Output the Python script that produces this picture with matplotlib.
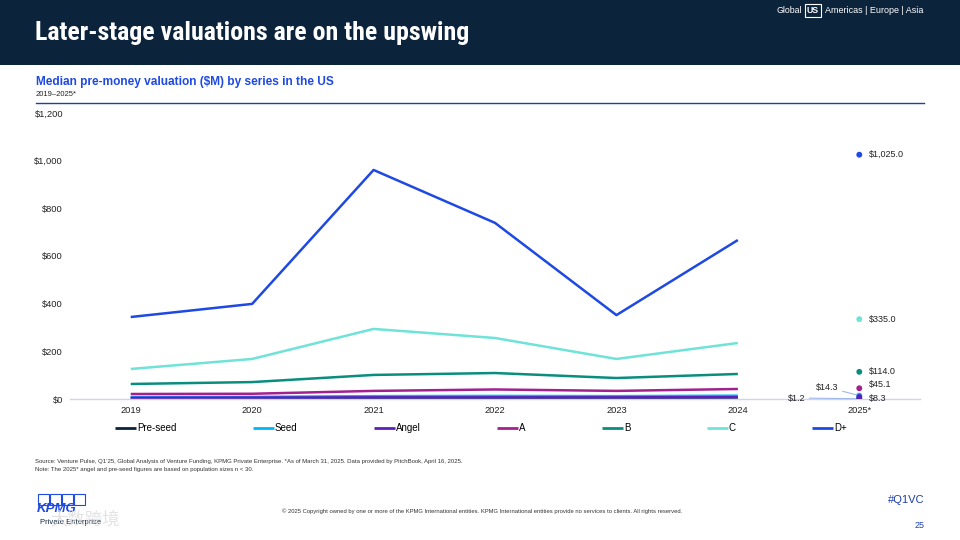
import numpy as np
import matplotlib
matplotlib.use("Agg")
from matplotlib import pyplot as plt, font_manager
from matplotlib.patches import Rectangle

plt.rcParams['font.family'] = ['Liberation Sans', 'DejaVu Sans']

#%% # Data

years = ['2019', '2020', '2021', '2022', '2023', '2024', '2025*']
series = ['Pre-seed', 'Seed', 'Angel', 'A', 'B', 'C', 'D+']
colours = ['#0c233c', '#00b8f5', '#5b1fbf', '#a3218f', '#098e7e', '#6fe3d8', '#1e49e2']

preseed = [3, 4, 5, 5, 5, 6]
seed = [8, 9, 12, 13, 12, 14]
angel = [5, 6, 7, 7, 7, 8]
ser_a = [21, 22, 34, 40, 34, 42]
ser_b = [63, 71, 101, 109, 88, 105]
ser_c = [126, 168, 294, 256, 168, 235]
ser_d = [344, 399, 961, 739, 352, 667]
values = [preseed, seed, angel, ser_a, ser_b, ser_c, ser_d]

# 2025 YTD values only shown as dots
ytd = [1.2, 14.3, 8.3, 45.1, 114.0, 335.0, 1025.0]

yticks = [0, 200, 400, 600, 800, 1000, 1200]

#%% # Pick the narrowest installed font for the header

installed = {f.name for f in font_manager.fontManager.ttflist}
narrow = ['Liberation Sans Narrow', 'DejaVu Sans Condensed', 'Roboto Condensed',
          'Open Sans Condensed', 'Noto Sans Condensed', 'Inter', 'Roboto', 'Liberation Sans']
head_font = next((f for f in narrow if f in installed), 'DejaVu Sans')

#%% # Figure

fig = plt.figure(figsize=(9.6, 5.4), dpi=100)
fig.patch.set_facecolor('white')

# header band
fig.patches.append(Rectangle((0, 1 - 65 / 540), 1, 65 / 540, transform=fig.transFigure,
                             facecolor='#0c233c', edgecolor='none', zorder=0))
title = fig.text(35 / 960, 1 - 33 / 540, 'Later-stage valuations are on the upswing',
                 family=[head_font, 'DejaVu Sans'], weight='bold', size=24,
                 color='white', va='center', ha='left')
# fit title width to the reference (~437 px)
r = fig.canvas.get_renderer()
w = title.get_window_extent(renderer=r).width
title.set_fontsize(min(24 * 437 / w, 26))

# top right nav
fig.text(802 / 960, 1 - 10.5 / 540, 'Global', color='white', size=6.3, va='center', ha='right')
fig.text(813 / 960, 1 - 10.5 / 540, 'US', color='white', size=6.3, weight='bold', va='center', ha='center',
         bbox=dict(boxstyle='square,pad=0.2', facecolor='none', edgecolor='white', linewidth=0.8))
fig.text(825 / 960, 1 - 10.5 / 540, 'Americas | Europe | Asia', color='white', size=6.5,
         va='center', ha='left')

# chart title
fig.text(36 / 960, 1 - 82 / 540, 'Median pre-money valuation ($M) by series in the US',
         color='#1e49e2', weight='bold', size=8.6, va='center', ha='left')
fig.text(36 / 960, 1 - 95 / 540, '2019\u20132025*', color='#222222', size=5.5, va='center', ha='left')
fig.add_artist(plt.Line2D([36 / 960, 924 / 960], [1 - 103 / 540, 1 - 103 / 540],
                          transform=fig.transFigure, color='#1e3fa8', linewidth=1))

ax = fig.add_axes([70 / 960, 1 - 399 / 540, 850 / 960, 286 / 540])
x = np.arange(len(years))

for vals, colour, name in zip(values, colours, series):
    ax.plot(x[:len(vals)], vals, color=colour, linewidth=1.8, label=name, solid_capstyle='butt')

for val, colour in zip(ytd, colours):
    ax.scatter(x[-1], val, s=18, color=colour, zorder=5, edgecolors='none')

# labels for 2025 dots
lbl_kw = dict(textcoords='offset points', fontsize=6.5, color='#222222', va='center')
ax.annotate('$1,025.0', (x[-1], ytd[6]), xytext=(7, 0), ha='left', **lbl_kw)
ax.annotate('$335.0', (x[-1], ytd[5]), xytext=(7, 0), ha='left', **lbl_kw)
ax.annotate('$114.0', (x[-1], ytd[4]), xytext=(7, 0), ha='left', **lbl_kw)
ax.annotate('$45.1', (x[-1], ytd[3]), xytext=(7, 2.5), ha='left', **lbl_kw)
ax.annotate('$8.3', (x[-1], ytd[2]), xytext=(7, -1), ha='left', **lbl_kw)
ax.annotate('$14.3', (x[-1], ytd[1]), xytext=(-15, 6), ha='right',
            arrowprops=dict(arrowstyle='-', color='#9fb8ee', linewidth=0.8,
                            shrinkA=1, shrinkB=2), **lbl_kw)
ax.annotate('$1.2', (x[-1], ytd[0]), xytext=(-39, 0.5), ha='right',
            arrowprops=dict(arrowstyle='-', color='#9fb8ee', linewidth=0.8,
                            shrinkA=1, shrinkB=2), **lbl_kw)

ax.set_xlim(-0.5, len(years) - 0.5)
ax.set_ylim(0, 1200)
ax.set_xticks(x)
ax.set_xticklabels(years)
ax.set_yticks(yticks)
ax.set_yticklabels(['${:,}'.format(t) for t in yticks])
ax.tick_params(length=0, labelsize=6.7, labelcolor='#222222')
ax.tick_params(axis='x', pad=5)
ax.tick_params(axis='y', pad=5)
for side in ['left', 'right', 'top']:
    ax.spines[side].set_visible(False)
ax.spines['bottom'].set_color('#c9d6f3')
ax.spines['bottom'].set_linewidth(1)
ax.set_zorder(2)
ax.patch.set_alpha(0)

leg = ax.legend(loc='center left', bbox_to_anchor=(41 / 850, -29.5 / 286, 740 / 850, 0.001),
                mode='expand', ncol=7, frameon=False, fontsize=7, handlelength=2.2,
                handletextpad=0.1, borderaxespad=0)
for line in leg.get_lines():
    line.set_linewidth(2)

# footer
fig.text(35 / 960, 1 - 462 / 540,
         'Source: Venture Pulse, Q1\u201925, Global Analysis of Venture Funding, KPMG Private Enterprise. '
         '*As of March 31, 2025. Data provided by PitchBook, April 16, 2025.',
         size=4.3, color='#333333', va='center', ha='left')
fig.text(35 / 960, 1 - 469.5 / 540,
         'Note: The 2025* angel and pre-seed figures are based on population sizes n < 30.',
         size=4.3, color='#333333', va='center', ha='left')
fig.text(482 / 960, 1 - 511 / 540,
         '\u00a9 2025 Copyright owned by one or more of the KPMG International entities. '
         'KPMG International entities provide no services to clients. All rights reserved.',
         size=4.25, color='#333333', va='center', ha='center')
fig.text(925 / 960, 1 - 500 / 540, '#Q1VC', size=8, color='#1e3fa8', va='center', ha='right')
fig.text(925 / 960, 1 - 525 / 540, '25', size=6.5, color='#1e3fa8', va='center', ha='right')

# KPMG logo
for i in range(4):
    fig.patches.append(Rectangle(((38 + i * 12) / 960, 1 - 505 / 540), 11 / 960, 11 / 540,
                                 transform=fig.transFigure, facecolor='white',
                                 edgecolor='#1e49e2', linewidth=0.8))
fig.text(37 / 960, 1 - 509 / 540, 'KPMG', size=9.5, weight='bold', style='italic',
         color='#1e49e2', va='center', ha='left')
fig.text(40 / 960, 1 - 522 / 540, 'Private Enterprise', size=5.5, color='#0c233c',
         va='center', ha='left')
fig.text(50 / 960, 1 - 519 / 540, '\u5927\u6570\u8de8\u5883', size=12.5,
         family=['Noto Sans CJK SC', 'DejaVu Sans'], color='#dcdcdc', alpha=0.8,
         va='center', ha='left')

plt.savefig('out.png', dpi=100)
